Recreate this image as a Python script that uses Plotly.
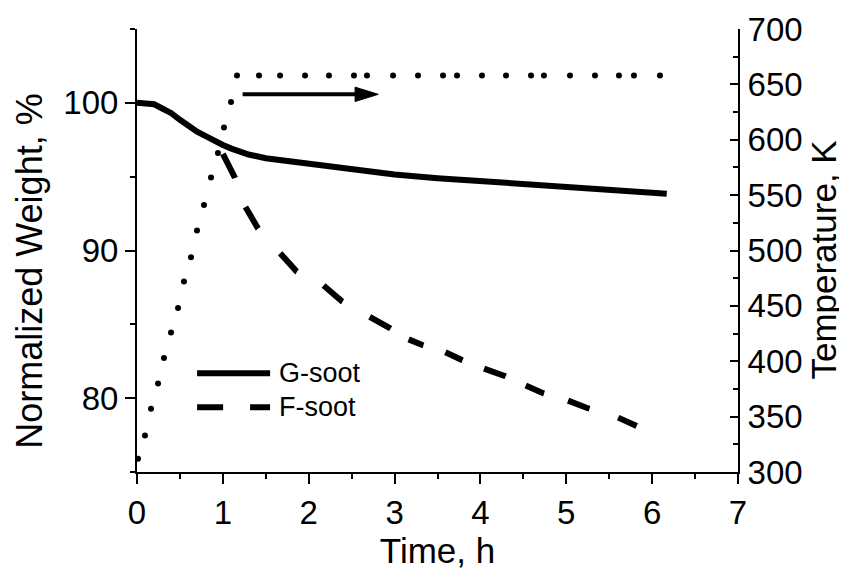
import plotly.graph_objects as go

# ---- data ----
temp_time = [0.012, 0.093, 0.163, 0.245, 0.314, 0.396, 0.478, 0.547, 0.629, 0.699,
             0.780, 0.862, 0.943, 1.013, 1.095, 1.165, 1.421, 1.666, 1.957, 2.236,
             2.527, 2.679, 2.982, 3.273, 3.564, 3.727, 4.018, 4.298, 4.589, 4.740,
             5.043, 5.334, 5.613, 5.788, 6.091]
temp_K = [312, 333, 357, 380, 403, 426, 448, 472, 494, 518,
          541, 566, 588, 611, 634, 658, 658, 658, 658, 658,
          658, 658, 658, 658, 658, 658, 658, 658, 658, 658,
          658, 658, 658, 658, 658]

g_time = [0, 0.1, 0.2, 0.3, 0.4, 0.5, 0.6, 0.7, 0.8, 0.9, 1.0, 1.1, 1.2, 1.3,
          1.5, 1.7, 2.0, 2.5, 3.0, 3.5, 4.0, 4.5, 5.0, 5.5, 6.0, 6.17]
g_weight = [100.0, 99.95, 99.9, 99.6, 99.3, 98.85, 98.4, 98.05, 97.75, 97.4, 97.15,
            96.9, 96.7, 96.5, 96.25, 96.1, 95.85, 95.45, 95.15, 94.9, 94.7, 94.5,
            94.3, 94.1, 93.9, 93.85]

f_time = [1.00, 1.14, 1.26, 1.41, 1.67, 1.86, 2.17, 2.39, 2.70, 2.95, 3.16, 3.33,
          3.59, 3.79, 4.03, 4.29, 4.52, 4.73, 5.01, 5.25, 5.59, 5.82]
f_weight = [96.55, 94.93, 92.97, 91.49, 89.80, 88.58, 87.64, 86.55, 85.54, 84.73,
            83.99, 83.58, 83.11, 82.57, 82.03, 81.49, 80.88, 80.34, 79.86, 79.32,
            78.72, 78.11]

series_names = ["G-soot", "F-soot"]
x_ticks = [0, 1, 2, 3, 4, 5, 6, 7]
y_ticks = [80, 90, 100]
y2_ticks = [300, 350, 400, 450, 500, 550, 600, 650, 700]

FONT = "Arial, Liberation Sans, sans-serif"
# dash pattern following the dash placement of the original line
F_DASH = ("27px,31px,25px,33px,25px,30px,25px,31px,24px,21px,16px,23px,19px,23px,"
          "23px,22px,20px,25px,23px,30px,22px,200px")

fig = go.Figure()
fig.add_trace(go.Scatter(x=g_time, y=g_weight, mode="lines", name=series_names[0],
                         line=dict(color="black", width=6), showlegend=False))
fig.add_trace(go.Scatter(x=f_time, y=f_weight, mode="lines", name=series_names[1],
                         line=dict(color="black", width=6, dash=F_DASH, simplify=False),
                         showlegend=False))
fig.add_trace(go.Scatter(x=temp_time, y=temp_K, mode="markers", name="Temperature",
                         marker=dict(color="black", size=6), yaxis="y2", showlegend=False))

# legend drawn by hand (long line samples as in the original)
shapes = [
    dict(type="line", xref="x", yref="y", x0=0.70, x1=1.55, y0=81.69, y1=81.69,
         line=dict(color="black", width=6)),
    dict(type="line", xref="x", yref="y", x0=0.70, x1=1.55, y0=79.39, y1=79.39,
         line=dict(color="black", width=6, dash="26px,27px")),
    # arrow pointing to the temperature axis
    dict(type="line", xref="x", yref="y2", x0=1.23, x1=2.6, y0=641, y1=641,
         line=dict(color="black", width=4)),
    dict(type="path", xref="x", yref="y2", path="M 2.54,647.5 L 2.81,641 L 2.54,634.5 Z",
         fillcolor="black", line=dict(color="black", width=1)),
]
annotations = [
    dict(x=1.63, y=81.69, xref="x", yref="y", text=series_names[0], showarrow=False,
         xanchor="left", yanchor="middle", font=dict(family=FONT, size=27, color="black")),
    dict(x=1.63, y=79.39, xref="x", yref="y", text=series_names[1], showarrow=False,
         xanchor="left", yanchor="middle", font=dict(family=FONT, size=27, color="black")),
    # axis titles (placed like the original, slightly below the axis middle)
    dict(x=-0.178, y=0.452, xref="paper", yref="paper", text="Normalized Weight, %",
         textangle=-90, showarrow=False, xanchor="center", yanchor="middle",
         font=dict(family=FONT, size=36, color="black")),
    dict(x=1.142, y=0.478, xref="paper", yref="paper", text="Temperature, K",
         textangle=-90, showarrow=False, xanchor="center", yanchor="middle",
         font=dict(family=FONT, size=35, color="black")),
]

axis_common = dict(showgrid=False, zeroline=False, showline=True, linecolor="black",
                   linewidth=2, tickcolor="black", tickwidth=2, automargin=False,
                   tickfont=dict(family=FONT, size=33, color="black"))

# the page adds an 8px body margin, so the figure is 8px smaller than the window
fig.update_layout(
    width=839, height=567,
    margin=dict(l=129, r=109, t=21, b=103),
    paper_bgcolor="white", plot_bgcolor="white",
    font=dict(family=FONT, color="black"),
    shapes=shapes, annotations=annotations,
    xaxis=dict(**axis_common, range=[0, 7], tickvals=x_ticks, ticks="outside", ticklen=10,
               minor=dict(dtick=0.5, ticks="outside", ticklen=5, tickwidth=2, tickcolor="black"),
               title=dict(text="Time, h", font=dict(family=FONT, size=35), standoff=4)),
    yaxis=dict(**axis_common, range=[75, 105], tickvals=y_ticks, ticks="outside", ticklen=10,
               minor=dict(tickvals=[75, 85, 95, 105], ticks="outside", ticklen=5, tickwidth=2,
                          tickcolor="black")),
    yaxis2=dict(**axis_common, range=[300, 700], tickvals=y2_ticks, ticks="inside", ticklen=8,
                overlaying="y", side="right", ticklabelstandoff=1,
                minor=dict(dtick=25, ticks="inside", ticklen=5, tickwidth=2, tickcolor="black")),
)

fig.write_html("out.html")
